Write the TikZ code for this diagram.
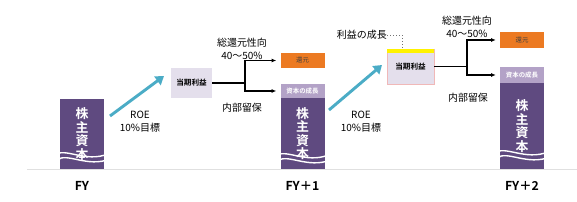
\documentclass[tikz,border=0pt]{standalone}
\usepackage{fontspec}
\setmainfont{Noto Sans CJK JP}[BoldFont={Noto Sans CJK JP Bold}]
\usetikzlibrary{arrows.meta,calc}
\definecolor{kabu}{HTML}{5F4A80}
\definecolor{seicho}{HTML}{B3A2C7}
\definecolor{rieki}{HTML}{E4DFEC}
\definecolor{kangen}{HTML}{EC7A22}
\definecolor{roe}{HTML}{4BACC6}
\definecolor{waku}{HTML}{F0B8B8}

\begin{document}
\begin{tikzpicture}[x=0.03cm,y=-0.03cm,
  bar/.style={fill=kabu,text=white,inner sep=0pt,minimum width=1.32cm,align=center,
    font=\bfseries\fontsize{11}{11.5}\selectfont},
  growbox/.style={fill=seicho,text=white,inner sep=0pt,minimum width=1.32cm,
    font=\bfseries\fontsize{5.5}{6}\selectfont},
  retbox/.style={fill=kangen,text=black!75,inner sep=0pt,minimum width=1.32cm,
    font=\fontsize{5.5}{6}\selectfont},
  profit/.style={fill=rieki,text=black,inner sep=0pt,font=\bfseries\fontsize{6.5}{7}\selectfont},
  lbl/.style={align=center,inner sep=0pt,font=\fontsize{8.5}{11}\selectfont},
  year/.style={inner sep=0pt,font=\bfseries\fontsize{10.5}{12}\selectfont},
  wave/.style={draw=white,line width=1.2pt},
  roearrow/.style={draw=roe,line width=2.5pt,-{Triangle[length=7pt,width=9pt]}},
  branch/.style={line width=1.1pt,-{Latex[length=4pt,width=3.5pt]}}]
\useasboundingbox (0,0) rectangle (577,202);
\coordinate (L) at (27,169); \coordinate (R) at (577,169);
\draw[black!12,line width=0.8pt] (L)--(R);

% FY
\node[bar,minimum height=2.1cm] (bar0) at (82,134) {株\\主\\資\\本};
\draw[wave,shift={(82,155)}] (-27,0) .. controls (-17,-8) and (3,8) .. (26,-1) (-25,5) .. controls (-15,-3) and (5,13) .. (28,4);
\node[year] (fy0) at (82,186) {FY};
\coordinate (a0) at (110,116); \coordinate (b0) at (164,76);
\draw[roearrow] (a0)--(b0);
\node[lbl] (roe0) at (140,122) {ROE\\10\%目標};
\node[profit,minimum width=1.23cm,minimum height=0.9cm] (tk0) at (191.5,83) {当期利益};

% FY+1
\node[retbox,minimum height=0.45cm] (kg1) at (302.5,60.5) {還元};
\node[growbox,minimum height=0.42cm] (sg1) at (302.5,91) {資本の成長};
\node[bar,minimum height=2.13cm] (bar1) at (302.5,133.5) {株\\主\\資\\本};
\draw[wave,shift={(302.5,156)}] (-27,0) .. controls (-17,-8) and (3,8) .. (26,-1) (-25,5) .. controls (-15,-3) and (5,13) .. (28,4);
\node[year] (fy1) at (302.5,186) {FY＋1};
\coordinate (br1) at (245,83);
\draw[line width=1.1pt] (tk0.east)--(br1);
\draw[branch] (br1) |- ([xshift=-0.12cm]kg1.west);
\draw[branch] (br1) |- ([xshift=-0.12cm]sg1.west);
\node[lbl] (sk1) at (242,49) {総還元性向\\40～50\%};
\node[lbl] (nr1) at (242,108) {内部留保};
\coordinate (a1) at (329,110); \coordinate (b1) at (382,65);
\draw[roearrow] (a1)--(b1);
\node[lbl] (roe1) at (361,122) {ROE\\10\%目標};
\node[profit,draw=waku,line width=0.5pt,minimum width=1.41cm,minimum height=1.05cm] (tk1) at (410.5,66.5) {当期利益};
\fill[yellow] (tk1.north west) rectangle ($(tk1.north east)+(0,4)$);
\node[lbl,anchor=east] (rg) at (387,35) {利益の成長};
\coordinate (dt) at (402,35);
\draw[black!55,dotted,line width=0.6pt] (rg.east)--(dt)--(dt|-tk1.north);

% FY+2
\node[retbox,minimum height=0.48cm] (kg2) at (522,40) {還元};
\node[growbox,minimum height=0.48cm] (sg2) at (522,75) {資本の成長};
\node[bar,minimum height=2.58cm] (bar2) at (522,126) {株\\主\\資\\本};
\draw[wave,shift={(522,153)}] (-27,0) .. controls (-17,-8) and (3,8) .. (26,-1) (-25,5) .. controls (-15,-3) and (5,13) .. (28,4);
\node[year] (fy2) at (522,186) {FY＋2};
\coordinate (br2) at (467,66.5);
\draw[line width=1.1pt] (tk1.east)--(br2);
\draw[branch] (br2) |- ([xshift=-0.12cm]kg2.west);
\draw[branch] (br2) |- ([xshift=-0.12cm]sg2.west);
\node[lbl] (sk2) at (467,27) {総還元性向\\40～50\%};
\node[lbl] (nr2) at (468,98) {内部留保};
\end{tikzpicture}
\end{document}
